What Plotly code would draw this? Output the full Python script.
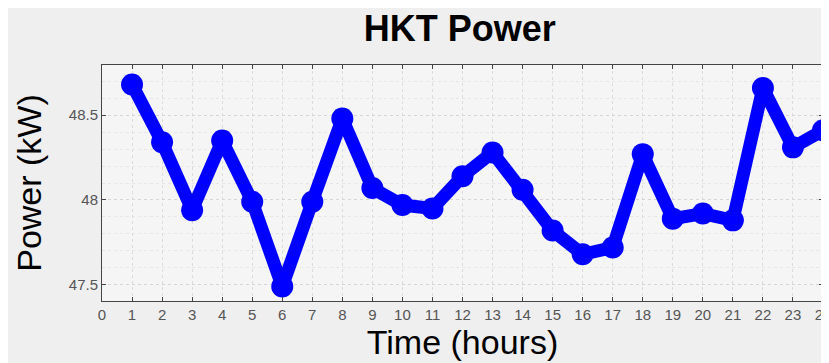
import plotly.graph_objects as go

hours = list(range(1, 25))
power_kw = [48.68, 48.34, 47.94, 48.35, 47.99, 47.49, 47.99, 48.48,
            48.07, 47.97, 47.95, 48.14, 48.28, 48.06, 47.82, 47.68,
            47.72, 48.27, 47.89, 47.92, 47.88, 48.66, 48.31, 48.41]
x_ticks = list(range(0, 25))
y_ticks = [47.5, 48, 48.5]
y_labels = ['47.5', '48', '48.5']

blue = '#0000ff'

fig = go.Figure()
fig.add_trace(go.Scatter(x=hours,
                         y=power_kw,
                         mode='lines+markers',
                         line={'color': blue, 'width': 13},
                         marker={'color': blue, 'size': 22},
                         cliponaxis=False,
                         showlegend=False))

fig.update_layout(
    width=829,
    height=363,
    paper_bgcolor='#efefef',
    plot_bgcolor='#f5f5f5',
    font={'family': 'Liberation Sans, Arial', 'color': 'black'},
    title={'text': '<b>HKT Power</b>',
           'font_size': 36,
           'x': 0.545,
           'xanchor': 'center',
           'y': 0.945,
           'yanchor': 'middle'},
    margin={'l': 94, 'r': 6, 't': 57, 'b': 70},
    xaxis={'title': {'text': 'Time (hours)', 'font_size': 34, 'standoff': 8},
           'range': [0, 24],
           'tickvals': x_ticks,
           'tickfont': {'size': 15, 'color': '#555555'},
           'ticklabeloverflow': 'allow',
           'ticks': 'inside',
           'ticklen': 4,
           'tickcolor': '#444444',
           'showline': True,
           'linecolor': '#444444',
           'mirror': 'ticks',
           'showgrid': True,
           'gridcolor': '#dcdcdc',
           'griddash': 'dot',
           'zeroline': False},
    yaxis={'title': {'text': 'Power (kW)', 'font_size': 34, 'standoff': 16},
           'range': [47.405, 48.795],
           'tickvals': y_ticks,
           'ticktext': y_labels,
           'tickfont': {'size': 15, 'color': '#555555'},
           'ticks': 'inside',
           'ticklen': 4,
           'tickcolor': '#444444',
           'showline': True,
           'linecolor': '#444444',
           'mirror': 'ticks',
           'showgrid': True,
           'gridcolor': '#d6d6d6',
           'griddash': 'dot',
           'minor': {'dtick': 0.1, 'showgrid': True, 'gridcolor': '#e6e6e6',
                     'griddash': 'dot'},
           'zeroline': False})

fig.write_html('out.html', config={'displayModeBar': False})
